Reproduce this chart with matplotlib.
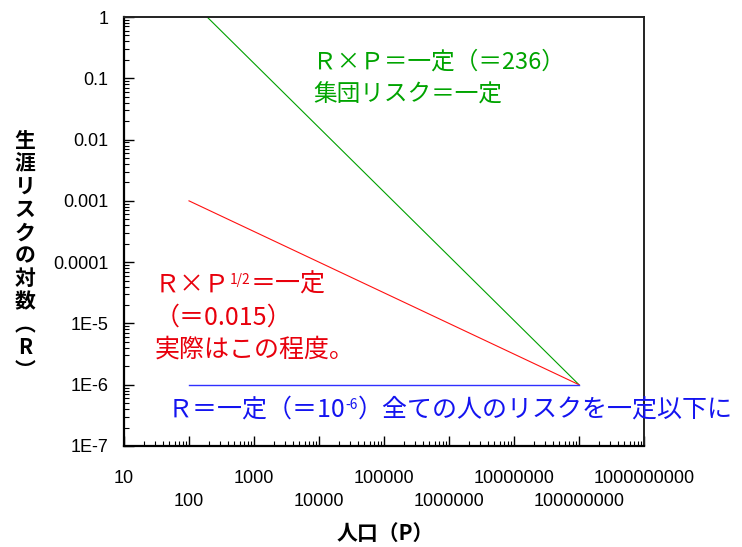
import numpy as np
import matplotlib
matplotlib.use("Agg")
import matplotlib.pyplot as plt
from matplotlib.ticker import LogLocator, FixedLocator, FixedFormatter, NullFormatter, NullLocator

plt.rcParams['font.family'] = ['Noto Sans CJK JP', 'DejaVu Sans']

# data
green_P = [190, 1e8]
green_R = [1, 1e-6]
red_P = [100, 1e8]
red_R = [1e-3, 1e-6]
blue_P = [100, 1e8]
blue_R = [1e-6, 1e-6]

x_ticks = [1e1, 1e2, 1e3, 1e4, 1e5, 1e6, 1e7, 1e8, 1e9]
x_labels = ["10", "100", "1000", "10000", "100000", "1000000",
            "10000000", "100000000", "1000000000"]
y_ticks = [1e-7, 1e-6, 1e-5, 1e-4, 1e-3, 1e-2, 1e-1, 1]
y_labels = ["1E-7", "1E-6", "1E-5", "0.0001", "0.001", "0.01", "0.1", "1"]

GREEN = "#00a400"
RED = "#e8000c"
BLUE = "#1414f0"

W, H = 742, 547
fig = plt.figure(figsize=(W / 100, H / 100), dpi=100)
ax = fig.add_axes([124 / W, 1 - 446 / H, (644 - 124) / W, (446 - 17) / H])


def px(x, y):
    return x / W, 1 - y / H


ax.plot(green_P, green_R, color="#00a000", lw=0.8)
ax.plot(red_P, red_R, color="#ff1010", lw=0.8)
ax.plot(blue_P, blue_R, color="#3030ff", lw=1.0)

ax.set_xscale("log")
ax.set_yscale("log")
ax.set_xlim(10, 1e9)
ax.set_ylim(1e-7, 1)

# x labels: even decades on the axis row, odd decades on a second row below
ax.xaxis.set_major_locator(FixedLocator(x_ticks))
ax.xaxis.set_major_formatter(FixedFormatter(
    [l if i % 2 == 0 else "" for i, l in enumerate(x_labels)]))
ax.xaxis.set_minor_locator(LogLocator(base=10, subs=np.arange(2, 10), numticks=20))
ax.xaxis.set_minor_formatter(NullFormatter())
ax.yaxis.set_major_locator(FixedLocator(y_ticks))
ax.yaxis.set_major_formatter(FixedFormatter(y_labels))
ax.yaxis.set_minor_locator(LogLocator(base=10, subs=np.arange(2, 10), numticks=20))
ax.yaxis.set_minor_formatter(NullFormatter())

ax.tick_params(which="both", direction="in", top=False, right=False, color="black")
ax.tick_params(which="major", length=7.5, width=1.0)
ax.tick_params(which="minor", length=3.5, width=0.8)
ax.tick_params(axis="y", pad=11)
ax.tick_params(axis="x", pad=17)

sec = ax.secondary_xaxis("bottom")
sec.set_xticks(x_ticks[1::2], x_labels[1::2])
sec.xaxis.set_minor_locator(NullLocator())
sec.tick_params(length=0, pad=34)
sec.spines["bottom"].set_visible(False)

for lab in ax.get_yticklabels():
    lab.set_family(["Liberation Sans", "DejaVu Sans"])
    lab.set_fontsize(13)
for lab in ax.get_xticklabels() + sec.get_xticklabels():
    lab.set_family(["Liberation Sans Narrow", "Liberation Sans", "DejaVu Sans"])
    lab.set_fontsize(13)

for side in ["left", "bottom"]:
    ax.spines[side].set_linewidth(1.6)
    ax.spines[side].set_color("black")
for side in ["top", "right"]:
    ax.spines[side].set_linewidth(1.4)
    ax.spines[side].set_color("#222222")


def chain(x, y, parts, color, size):
    # parts: list of (text, superscript?) drawn one after another
    first = fig.text(*px(x, y), parts[0][0], color=color, fontsize=size,
                     ha="left", va="center")
    prev, base = first, first
    for s, sup in parts[1:]:
        if sup:
            prev = ax.annotate(s, xy=(1, 0.42), xycoords=base, color=color,
                               fontsize=size * 0.55, ha="left", va="bottom",
                               annotation_clip=False)
        else:
            nxt = ax.annotate(s, xy=(1, 0), xycoords=(prev, base), color=color,
                              fontsize=size, ha="left", va="bottom",
                              annotation_clip=False)
            prev = base = nxt
    return first


chain(313, 62, [("Ｒ×Ｐ＝一定（＝236）", False)], GREEN, 17)
chain(313, 95, [("集団リスク＝一定", False)], GREEN, 17)

chain(155, 285, [("Ｒ×Ｐ", False), ("1/2", True), ("＝一定", False)], RED, 18)
chain(155, 318, [("（＝0.015）", False)], RED, 18)
chain(155, 350, [("実際はこの程度。", False)], RED, 18)

chain(168, 410, [("Ｒ＝一定（＝10", False), ("-6", True),
                 ("）全ての人のリスクを一定以下に", False)], BLUE, 18)

# vertical y-axis label, one character per line
ylab = "生涯リスクの対数︵R︶"
fig.text(*px(25, 130), "\n".join(ylab), fontsize=15, fontweight="bold",
         ha="center", va="top", multialignment="center", linespacing=1.12)

fig.text(*px(385, 533), "人口（P）", fontsize=15, fontweight="bold",
         ha="center", va="center")

fig.savefig("out.png", dpi=100)
